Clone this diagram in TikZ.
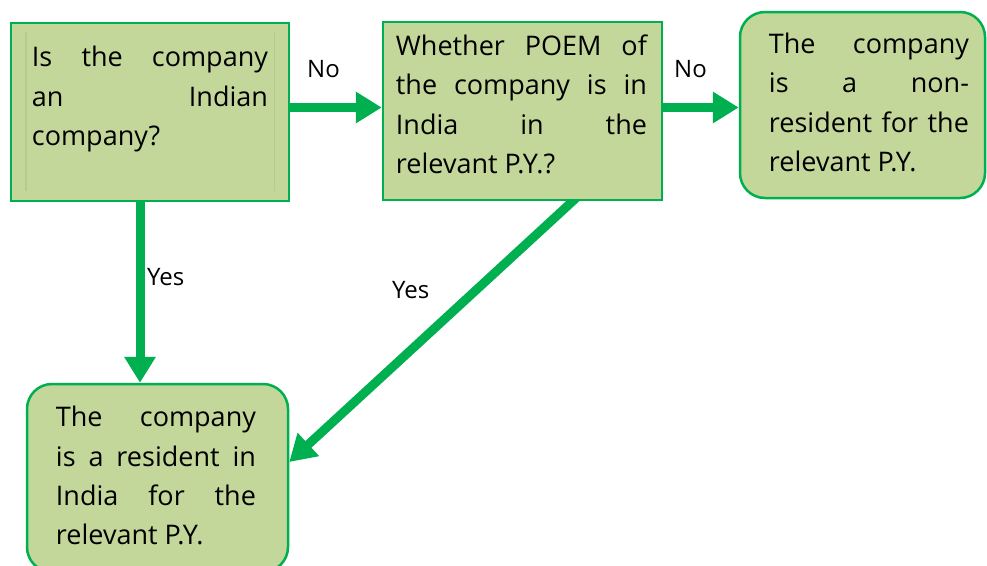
\documentclass[tikz,border=0pt]{standalone}
\usepackage{fontspec}
\setmainfont{Open Sans}
\usetikzlibrary{arrows.meta,positioning,backgrounds}
\definecolor{boxfill}{HTML}{C4D79B}
\definecolor{boxline}{HTML}{00B050}
\definecolor{rimline}{HTML}{B6CA8E}
\tolerance=10000 \hbadness=10000

\begin{document}
\begin{tikzpicture}[x=1pt,y=-1pt,
    box/.style={draw=boxline,line width=2.5pt,fill=boxfill,inner sep=0pt},
    roundbox/.style={box,rounded corners=25pt},
    boxtext/.style={inner sep=0pt,text width=#1,align=justify,
      font=\fontsize{27}{39.3}\selectfont},
    flow/.style={draw=boxline,line width=9pt,-{Triangle[length=26pt,width=30pt]}},
    lbl/.style={anchor=base west,inner sep=0pt,font=\fontsize{24}{28}\selectfont}]
    \useasboundingbox (0,0) rectangle (987,565);
    \clip (0,0) rectangle (987,565);

    \node[box,minimum width=278pt,minimum height=178pt] (indian) at (150,112) {};
    \node[box,minimum width=279pt,minimum height=178pt] (poem) at (522.5,111) {};
    \node[roundbox,minimum width=245pt,minimum height=186pt] (nonres) at (862.5,105) {};
    \node[roundbox,minimum width=261pt,minimum height=188pt] (res) at (157.5,478) {};

    \draw[rimline,line width=1.5pt]
      ([xshift=16pt,yshift=-10pt]indian.north west) -- ([xshift=16pt,yshift=11pt]indian.south west)
      ([xshift=-16pt,yshift=-10pt]indian.north east) -- ([xshift=-16pt,yshift=11pt]indian.south east);

    \node[boxtext=236pt,below right=24.5pt and 22pt of indian.north west] (indiantext)
      {Is the company\linebreak an Indian\linebreak company?};
    \node[boxtext=251pt,below right=14pt and 14pt of poem.north west] (poemtext)
      {Whether POEM of\linebreak the company is in\linebreak India in the\linebreak relevant P.Y.?};
    \node[boxtext=200pt,below right=22pt and 30pt of nonres.north west] (nonrestext)
      {The company\linebreak is a non-\linebreak resident for the\linebreak relevant P.Y.};
    \node[boxtext=200pt,below right=23.5pt and 30pt of res.north west] (restext)
      {The company\linebreak is a resident in\linebreak India for the\linebreak relevant P.Y.};

    \begin{pgfonlayer}{background}
    \draw[flow] ([yshift=4.5pt]indian.east) -- ([yshift=4.5pt]indian.east -| poem.west);
    \draw[flow] ([yshift=3.5pt]poem.east) -- ([yshift=3.5pt]poem.east -| nonres.west);
    \draw[flow] ([xshift=-10pt]indian.south) -- ([xshift=-10pt]indian.south |- res.north);
    \draw[flow] ([xshift=55.5pt,yshift=5pt]poem.south) -- ([yshift=16pt]res.east);
    \end{pgfonlayer}

    \node[lbl] (no1) at (307,77) {No};
    \node[lbl] (no2) at (674,77) {No};
    \node[lbl] (yes1) at (147,285) {Yes};
    \node[lbl] (yes2) at (392,298) {Yes};
\end{tikzpicture}
\end{document}
